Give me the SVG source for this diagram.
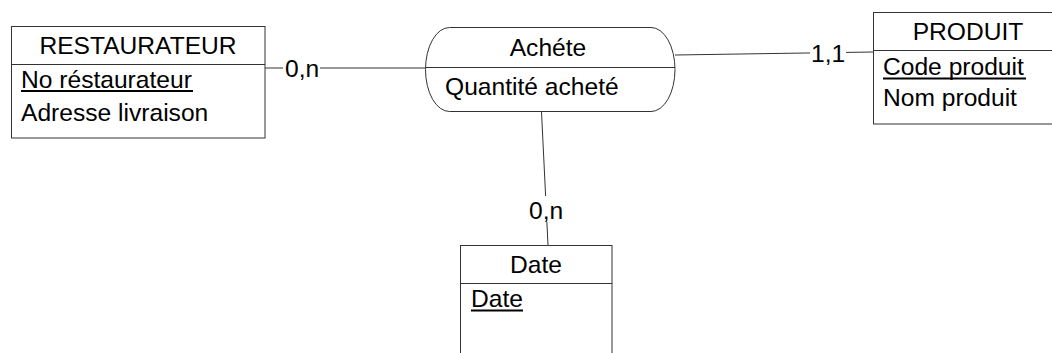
<svg xmlns="http://www.w3.org/2000/svg" width="1052" height="353" viewBox="0 0 1052 353">
<style>
.box{fill:#fff;stroke:#333;stroke-width:1}
.ln{stroke:#333;stroke-width:1;fill:none}
.ul{stroke:#000;stroke-width:2}
text{font-family:"Liberation Sans",Arial,sans-serif;font-size:24.6px;fill:#000}
.c{text-anchor:middle}
.lbl{fill:#fff;stroke:none}
</style>
<g id="connectors">
<line class="ln" x1="265" y1="68" x2="425" y2="68"/>
<rect class="lbl" x="283" y="58" width="37" height="20"/>
<text x="285" y="77">0,n</text>
<line class="ln" x1="675" y1="55" x2="873" y2="52"/>
<rect class="lbl" x="810" y="44" width="36" height="20"/>
<text x="811" y="62">1,1</text>
<line class="ln" x1="541.5" y1="112" x2="548" y2="245"/>
<rect class="lbl" x="527" y="196" width="40" height="26"/>
<text x="529" y="219">0,n</text>
</g>
<g id="restaurateur">
<rect class="box" x="11.5" y="26.5" width="253.5" height="111.5"/>
<line class="ln" x1="11.5" y1="64.5" x2="265" y2="64.5"/>
<text class="c" x="138" y="54">RESTAURATEUR</text>
<text x="21" y="88">No réstaurateur</text>
<line class="ul" x1="21" y1="91" x2="193" y2="91"/>
<text x="21" y="121">Adresse livraison</text>
</g>
<g id="achete">
<rect class="box" x="425.5" y="27.5" width="249.5" height="84" rx="24" ry="42"/>
<line class="ln" x1="425.5" y1="67.5" x2="675" y2="67.5"/>
<text class="c" x="548" y="56">Achéte</text>
<text x="445" y="95">Quantité acheté</text>
</g>
<g id="produit">
<rect class="box" x="873.5" y="12.5" width="200" height="111.5"/>
<line class="ln" x1="873.5" y1="50.5" x2="1060" y2="50.5"/>
<text class="c" x="968" y="40">PRODUIT</text>
<text x="883" y="75">Code produit</text>
<line class="ul" x1="883" y1="78.5" x2="1026" y2="78.5"/>
<text x="883" y="106">Nom produit</text>
</g>
<g id="date">
<rect class="box" x="460.5" y="245.5" width="151.5" height="130"/>
<line class="ln" x1="460.5" y1="283.5" x2="612" y2="283.5"/>
<text class="c" x="536" y="273">Date</text>
<text x="471" y="307">Date</text>
<line class="ul" x1="471" y1="310.5" x2="523" y2="310.5"/>
</g>
</svg>
